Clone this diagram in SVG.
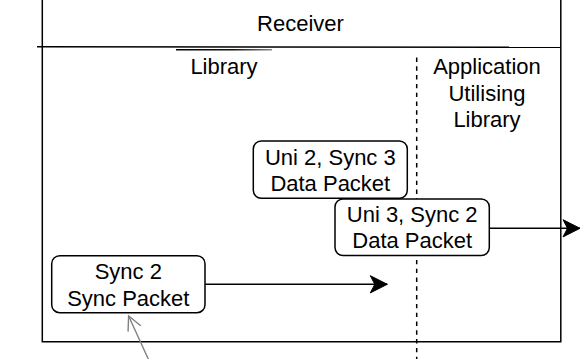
<svg xmlns="http://www.w3.org/2000/svg" width="580" height="359" viewBox="0 0 580 359">
  <style>
    .frame { fill: none; stroke: #000; stroke-width: 1.5; }
    .box { fill: #fff; stroke: #000; stroke-width: 1.5; }
    .t { font-family: "Liberation Sans", Arial, Helvetica, sans-serif; font-size: 22px; fill: #000; text-anchor: middle; }
    .edge { fill: none; stroke: #000; stroke-width: 1.5; }
    .gray { fill: none; stroke: #808080; stroke-width: 1.4; }
    .dash { fill: none; stroke: #000; stroke-width: 1.5; stroke-dasharray: 4.4 4.4; }
  </style>
  <defs>
    <linearGradient id="fade" gradientUnits="userSpaceOnUse" x1="176" y1="0" x2="272" y2="0">
      <stop offset="0" stop-color="#000"/>
      <stop offset="0.6" stop-color="#111"/>
      <stop offset="1" stop-color="#888"/>
    </linearGradient>
    <marker id="block" markerUnits="userSpaceOnUse" markerWidth="20" markerHeight="20" refX="17" refY="9" orient="auto" overflow="visible">
      <path d="M0,0.4 L17,9 L0,17.6 L4.5,9 Z" fill="#000" stroke="#000" stroke-width="1"/>
    </marker>
    <marker id="open" markerUnits="userSpaceOnUse" markerWidth="20" markerHeight="20" refX="14" refY="7" orient="auto" overflow="visible">
      <path d="M0,0 L14,7 L0,14" fill="none" stroke="#808080" stroke-width="1.4"/>
    </marker>
  </defs>

  <rect width="580" height="359" fill="#fff"/>

  <g id="receiver">
    <path class="frame" d="M42.3,-5 V341.7 H560.8 V-5"/>
    <line class="frame" x1="37" y1="46.8" x2="561" y2="47.3"/>
    <line x1="176" y1="49.8" x2="272" y2="49.8" stroke="url(#fade)" stroke-width="1.4"/>
    <text class="t" x="300.5" y="30.7">Receiver</text>
  </g>

  <g id="library-label">
    <text class="t" x="224" y="73.8">Library</text>
  </g>

  <g id="application-label">
    <text class="t" x="487" y="74">Application</text>
    <text class="t" x="487" y="100.5">Utilising</text>
    <text class="t" x="487" y="127">Library</text>
  </g>

  <g id="boundary">
    <line class="dash" x1="416.7" y1="57.5" x2="416.7" y2="359"/>
  </g>

  <g id="uni2-sync3">
    <rect class="box" x="253.3" y="141" width="154" height="57.3" rx="8" ry="8"/>
    <text class="t" x="330.3" y="164.5">Uni 2, Sync 3</text>
    <text class="t" x="330.3" y="191">Data Packet</text>
  </g>

  <g id="uni3-sync2">
    <rect class="box" x="335" y="199" width="154.3" height="56.5" rx="8" ry="8"/>
    <text class="t" x="412.2" y="222">Uni 3, Sync 2</text>
    <text class="t" x="412.2" y="248.3">Data Packet</text>
  </g>

  <g id="sync2">
    <rect class="box" x="51.7" y="255.7" width="153.3" height="57" rx="8" ry="8"/>
    <text class="t" x="128.3" y="279">Sync 2</text>
    <text class="t" x="128.3" y="305.5">Sync Packet</text>
  </g>

  <g id="connectors">
    <path class="edge" d="M489.3,228.3 H580" marker-end="url(#block)"/>
    <path class="edge" d="M205,284.3 H387.3" marker-end="url(#block)"/>
    <path class="gray" d="M148.3,359 L128.6,316" marker-end="url(#open)"/>
  </g>
</svg>
